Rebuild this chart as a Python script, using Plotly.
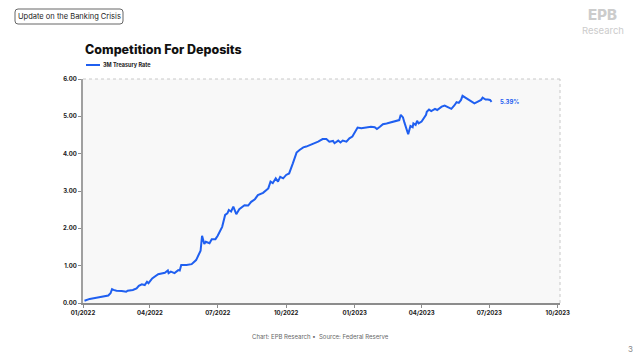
import plotly.graph_objects as go

dates = [
    "2022-01-03", "2022-01-10", "2022-01-19", "2022-01-28", "2022-02-04", "2022-02-07",
    "2022-02-09", "2022-02-11", "2022-02-15", "2022-02-22", "2022-02-28", "2022-03-02",
    "2022-03-09", "2022-03-14", "2022-03-17", "2022-03-21", "2022-03-25", "2022-03-28",
    "2022-03-30", "2022-04-04", "2022-04-12", "2022-04-21", "2022-04-25", "2022-04-26",
    "2022-04-29", "2022-05-04", "2022-05-09", "2022-05-11", "2022-05-13", "2022-05-20",
    "2022-05-27", "2022-06-02", "2022-06-07", "2022-06-08", "2022-06-10", "2022-06-13",
    "2022-06-15", "2022-06-20", "2022-06-23", "2022-06-28", "2022-07-01", "2022-07-04",
    "2022-07-07", "2022-07-11", "2022-07-14", "2022-07-16", "2022-07-19", "2022-07-22",
    "2022-07-26", "2022-07-30", "2022-08-03", "2022-08-06", "2022-08-11", "2022-08-15",
    "2022-08-20", "2022-08-24", "2022-08-31", "2022-09-07", "2022-09-10", "2022-09-13",
    "2022-09-17", "2022-09-20", "2022-09-23", "2022-09-27", "2022-10-01", "2022-10-05",
    "2022-10-10", "2022-10-15", "2022-10-19", "2022-10-24", "2022-10-28", "2022-11-02",
    "2022-11-06", "2022-11-13", "2022-11-19", "2022-11-24", "2022-11-28", "2022-12-03",
    "2022-12-05", "2022-12-10", "2022-12-13", "2022-12-16", "2022-12-21", "2022-12-25",
    "2022-12-29", "2023-01-02", "2023-01-05", "2023-01-10", "2023-01-17", "2023-01-23",
    "2023-01-28", "2023-01-31", "2023-02-04", "2023-02-08", "2023-02-13", "2023-02-19",
    "2023-02-26", "2023-03-02", "2023-03-04", "2023-03-07", "2023-03-09", "2023-03-11",
    "2023-03-14", "2023-03-17", "2023-03-20", "2023-03-21", "2023-03-24", "2023-03-26",
    "2023-03-28", "2023-04-01", "2023-04-04", "2023-04-07", "2023-04-08", "2023-04-11",
    "2023-04-14", "2023-04-19", "2023-04-22", "2023-04-25", "2023-04-28", "2023-05-02",
    "2023-05-07", "2023-05-11", "2023-05-15", "2023-05-18", "2023-05-21", "2023-05-24",
    "2023-05-26", "2023-05-30", "2023-06-02", "2023-06-06", "2023-06-11", "2023-06-15",
    "2023-06-20", "2023-06-22", "2023-06-26", "2023-06-29", "2023-07-02", "2023-07-04",
]
rates = [
    0.06, 0.11, 0.14, 0.18, 0.20, 0.26,
    0.37, 0.35, 0.33, 0.32, 0.30, 0.33,
    0.35, 0.39, 0.46, 0.50, 0.48, 0.57,
    0.53, 0.66, 0.77, 0.81, 0.87, 0.80,
    0.84, 0.80, 0.88, 0.87, 1.02, 1.02,
    1.04, 1.15, 1.33, 1.40, 1.80, 1.58,
    1.64, 1.60, 1.71, 1.71, 1.80, 1.91,
    2.04, 2.36, 2.40, 2.49, 2.45, 2.58,
    2.38, 2.51, 2.56, 2.62, 2.61, 2.71,
    2.78, 2.89, 2.95, 3.07, 3.25, 3.21,
    3.34, 3.25, 3.38, 3.34, 3.43, 3.47,
    3.74, 4.03, 4.10, 4.17, 4.19, 4.23,
    4.28, 4.32, 4.39, 4.39, 4.32, 4.34,
    4.28, 4.35, 4.30, 4.35, 4.32, 4.41,
    4.46, 4.62, 4.70, 4.68, 4.71, 4.72,
    4.71, 4.66, 4.72, 4.79, 4.81, 4.84,
    4.88, 4.90, 5.04, 4.97, 4.83, 4.72,
    4.52, 4.74, 4.71, 4.81, 4.77, 4.88,
    4.81, 4.86, 4.95, 5.04, 5.12, 5.18,
    5.14, 5.20, 5.17, 5.22, 5.26, 5.29,
    5.23, 5.20, 5.29, 5.38, 5.36, 5.44,
    5.55, 5.50, 5.44, 5.39, 5.35, 5.39,
    5.44, 5.50, 5.45, 5.45, 5.44, 5.39,
]

series_name = "3M Treasury Rate"
title_text = "Competition For Deposits"
header_text = "Update on the Banking Crisis"
footer_text = "Chart: EPB Research •  Source: Federal Reserve"
x_tickvals = ["2022-01-01", "2022-04-01", "2022-07-01", "2022-10-01",
              "2023-01-01", "2023-04-01", "2023-07-01", "2023-10-01"]
x_ticktext = ["01/2022", "04/2022", "07/2022", "10/2022",
              "01/2023", "04/2023", "07/2023", "10/2023"]
y_tickvals = [0, 1, 2, 3, 4, 5, 6]

BLUE = "#1f5ff0"
FONT = "Inter"
L, T, PW, PH = 83, 79, 477, 224


def px(xp):
    return (xp - L) / PW


def py(yp):
    return (T + PH - yp) / PH


fig = go.Figure()
fig.add_trace(go.Scatter(
    x=dates, y=rates, mode="lines", name=series_name,
    line=dict(color=BLUE, width=2), showlegend=False,
))

# rounded header box, pixel-sized, anchored at plot top-left
r = 3
x0, x1 = 15 - L, 123 - L
y0, y1 = T - 24, T - 9   # distances above plot top
box_path = (f"M {x0 + r},{y1} L {x1 - r},{y1} Q {x1},{y1} {x1},{y1 - r} "
            f"L {x1},{y0 + r} Q {x1},{y0} {x1 - r},{y0} "
            f"L {x0 + r},{y0} Q {x0},{y0} {x0},{y0 + r} "
            f"L {x0},{y1 - r} Q {x0},{y1} {x0 + r},{y1} Z")

shapes = [
    dict(type="line", xref="paper", yref="paper", x0=0, x1=1, y0=1, y1=1,
         line=dict(color="#c8c8c8", width=1, dash="dot")),
    dict(type="line", xref="paper", yref="paper", x0=1, x1=1, y0=0, y1=1,
         line=dict(color="#c8c8c8", width=1, dash="dot")),
    dict(type="path", xref="paper", yref="paper", xsizemode="pixel", ysizemode="pixel",
         xanchor=0, yanchor=1, path=box_path,
         line=dict(color="#666", width=1), fillcolor="rgba(0,0,0,0)"),
    # manual legend swatch
    dict(type="line", xref="paper", yref="paper", x0=px(86), x1=px(100),
         y0=py(65), y1=py(65), line=dict(color=BLUE, width=2)),
]

fig.update_layout(
    width=640, height=360,
    margin=dict(l=L, r=640 - L - PW, t=T, b=360 - T - PH, autoexpand=False),
    paper_bgcolor="white",
    plot_bgcolor="#f8f8f8",
    font=dict(family=FONT, color="#222"),
    showlegend=False,
    xaxis=dict(
        type="date", range=["2022-01-01", "2023-10-04"],
        tickvals=x_tickvals, ticktext=x_ticktext, automargin=False,
        tickfont=dict(size=6, family=FONT, color="#222", weight=700),
        showgrid=False, zeroline=False,
        showline=True, linecolor="#8c8c8c", linewidth=1.5,
        ticks="outside", ticklen=3, tickcolor="#8c8c8c", tickwidth=1,
    ),
    yaxis=dict(
        range=[0, 6], tickvals=y_tickvals, automargin=False,
        tickformat=".2f", ticksuffix="%",
        tickfont=dict(size=6, family=FONT, color="#222", weight=700),
        showgrid=False, zeroline=False,
        showline=True, linecolor="#a0a0a0", linewidth=2,
        ticks="outside", ticklen=3, tickcolor="#8c8c8c", tickwidth=1,
    ),
    shapes=shapes,
)

annotations = [
    dict(text=header_text, xref="paper", yref="paper",
         x=px(69), y=py(16.5), xanchor="center", yanchor="middle",
         showarrow=False, font=dict(size=7.5, family=FONT, color="#222")),
    dict(text=title_text, xref="paper", yref="paper",
         x=0, y=py(49), xanchor="left", yanchor="middle",
         showarrow=False, font=dict(size=12.5, family=FONT, color="#111", weight=800)),
    dict(text=series_name, xref="paper", yref="paper",
         x=px(101), y=py(65), xanchor="left", yanchor="middle",
         showarrow=False, font=dict(size=5.5, family=FONT, color="#222", weight=700)),
    dict(text=footer_text, xref="paper", yref="paper",
         x=px(320), y=py(336), xanchor="center", yanchor="middle",
         showarrow=False, font=dict(size=6, family=FONT, color="#666")),
    dict(text="3", xref="paper", yref="paper",
         x=px(630), y=py(349), xanchor="center", yanchor="middle",
         showarrow=False, font=dict(size=8, family=FONT, color="#888")),
    dict(text="EPB", xref="paper", yref="paper",
         x=px(602), y=py(15), xanchor="center", yanchor="middle",
         showarrow=False, font=dict(size=15, family=FONT, color="#cccccc", weight=800)),
    dict(text="Research", xref="paper", yref="paper",
         x=px(603), y=py(30), xanchor="center", yanchor="middle",
         showarrow=False, font=dict(size=9.5, family=FONT, color="#cccccc")),
    dict(text=f"{rates[-1]:.2f}%", x=dates[-1], y=rates[-1],
         xanchor="left", yanchor="middle", xshift=6, showarrow=False,
         font=dict(size=6, family=FONT, color=BLUE, weight=700)),
]
fig.update_layout(annotations=annotations)

fig.write_html("out.html", config={"displayModeBar": False},
               post_script="document.body.style.margin='0';")
